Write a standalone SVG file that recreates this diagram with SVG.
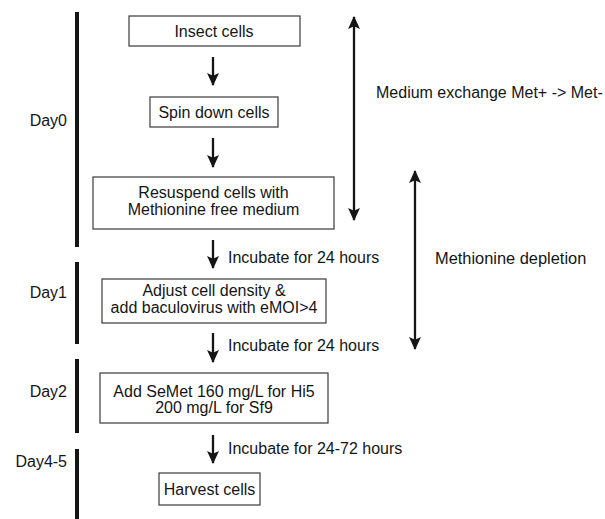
<svg xmlns="http://www.w3.org/2000/svg" width="605" height="519" viewBox="0 0 605 519">
<style>
text{font-family:"Liberation Sans",Arial,sans-serif;font-size:16px;fill:#151515}
.c{text-anchor:middle}
.e{text-anchor:end}
.box{fill:#fff;stroke:#3a3a3a;stroke-width:1.2}
.bar{stroke:#151515;stroke-width:4}
.arr{stroke:#151515;stroke-width:2.3;fill:none}
</style>
<defs>
<marker id="ah" viewBox="0 0 12 12" refX="11" refY="6" markerWidth="13" markerHeight="13" markerUnits="userSpaceOnUse" orient="auto-start-reverse">
<path d="M0,0.5 L12,6 L0,11.5 L2.5,6 z" fill="#151515"/>
</marker>
</defs>
<g id="days">
<line class="bar" x1="77" y1="12" x2="77" y2="247"/>
<line class="bar" x1="77" y1="262" x2="77" y2="344"/>
<line class="bar" x1="77" y1="359" x2="77" y2="433"/>
<line class="bar" x1="77" y1="449" x2="77" y2="519"/>
<text class="e" x="67" y="126">Day0</text>
<text class="e" x="67" y="298">Day1</text>
<text class="e" x="67" y="397">Day2</text>
<text class="e" x="67" y="467">Day4-5</text>
</g>
<g id="n1"><rect class="box" x="129" y="16" width="171" height="30"/><text class="c" x="214" y="37">Insect cells</text></g>
<g id="n2"><rect class="box" x="150" y="97" width="128" height="30"/><text class="c" x="214" y="118">Spin down cells</text></g>
<g id="n3"><rect class="box" x="93" y="177" width="241" height="52"/><text class="c" x="213.5" y="198">Resuspend cells with</text><text class="c" x="213.5" y="215">Methionine free medium</text></g>
<g id="n4"><rect class="box" x="102" y="279" width="224" height="44"/><text class="c" x="214" y="296">Adjust cell density &amp;</text><text class="c" x="214" y="313">add baculovirus with eMOI&gt;4</text></g>
<g id="n5"><rect class="box" x="100" y="373" width="228" height="50"/><text class="c" x="214" y="397">Add SeMet 160 mg/L for Hi5</text><text class="c" x="214" y="413">200 mg/L for Sf9</text></g>
<g id="n6"><rect class="box" x="159" y="473" width="101" height="32"/><text class="c" x="209.5" y="495">Harvest cells</text></g>
<g id="connectors">
<line class="arr" x1="213" y1="57" x2="213" y2="85" marker-end="url(#ah)"/>
<line class="arr" x1="213" y1="138" x2="213" y2="167" marker-end="url(#ah)"/>
<line class="arr" x1="213" y1="240" x2="213" y2="268" marker-end="url(#ah)"/>
<line class="arr" x1="213" y1="333" x2="213" y2="362" marker-end="url(#ah)"/>
<line class="arr" x1="213" y1="435" x2="213" y2="463" marker-end="url(#ah)"/>
<line class="arr" x1="354" y1="17" x2="354" y2="220" marker-start="url(#ah)" marker-end="url(#ah)"/>
<line class="arr" x1="415" y1="171" x2="415" y2="349" marker-start="url(#ah)" marker-end="url(#ah)"/>
</g>
<g id="labels">
<text x="228" y="263">Incubate for 24 hours</text>
<text x="228" y="351">Incubate for 24 hours</text>
<text x="228" y="454">Incubate for 24-72 hours</text>
<text x="376" y="98">Medium exchange Met+ -&gt; Met-</text>
<text x="435" y="264" style="font-size:16.4px">Methionine depletion</text>
</g>
</svg>
